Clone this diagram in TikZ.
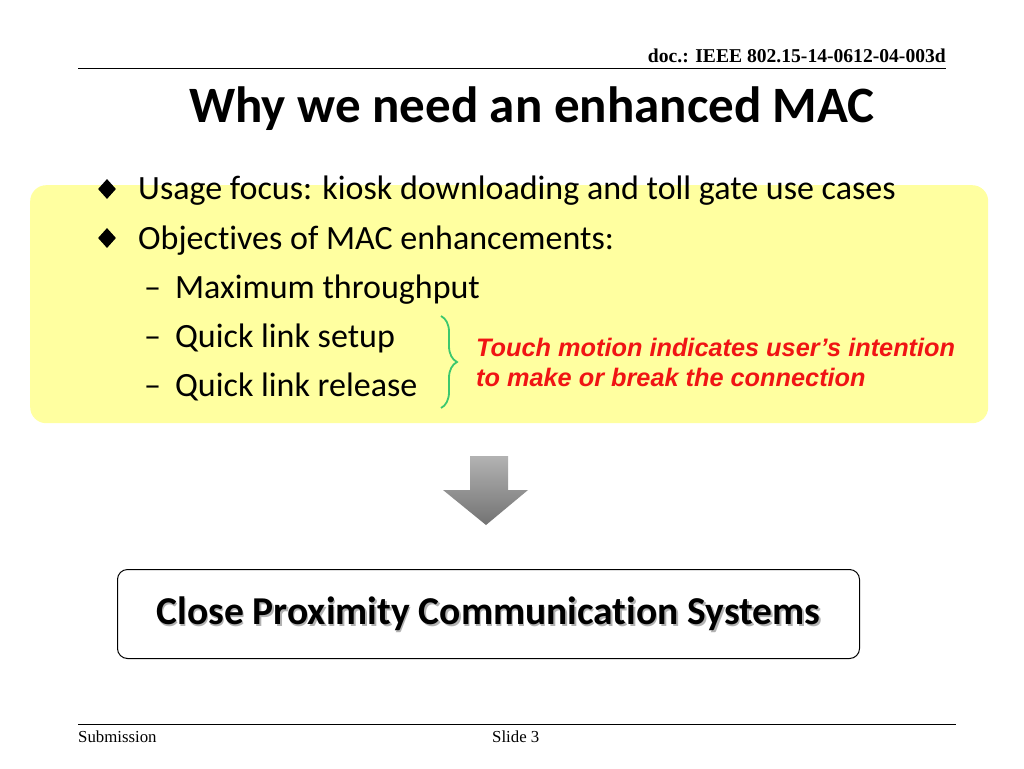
\documentclass[tikz,border=0pt]{standalone}
\usepackage{fontspec}
\setmainfont[Ligatures=NoCommon]{Carlito}
\newfontfamily\timesf{Liberation Serif}
\newfontfamily\arialf{Liberation Sans}
\usetikzlibrary{decorations.pathreplacing,shapes.geometric}
\definecolor{ylw}{RGB}{255,255,160}
\definecolor{brc}{RGB}{60,200,110}
\definecolor{redt}{RGB}{240,20,20}
\tikzset{body/.style={anchor=base west,font=\fontsize{34}{36}\selectfont,inner sep=0},
 rule/.style={line width=0.8pt},
 redtxt/.style={anchor=base west,inner sep=0,font=\arialf\bfseries\itshape\fontsize{25.3}{27}\selectfont,text=redt}}
\begin{document}
\begin{tikzpicture}[x=1pt,y=-1pt]
\useasboundingbox (0,0) rectangle (1024,768);
\fill[white] (0,0) rectangle (1024,768);
\node[anchor=base east,font=\timesf\bfseries\fontsize{19.6}{21}\selectfont,inner sep=0] (doc) at (946,63) {doc.: IEEE 802.15-14-0612-04-003d};
\draw[rule] (78,68) -- (946,68);
\node[anchor=base west,font=\bfseries\fontsize{51}{55}\selectfont,inner sep=0] (title) at (189,122) {Why we need an enhanced MAC};
\node[draw=none,fill=ylw,rounded corners=16pt,minimum width=958pt,minimum height=238pt,anchor=north west] (yb) at (30,185) {};
\node[diamond,fill=black,inner sep=0,minimum width=18pt,minimum height=20pt] (d1) at (107,189) {};
\node[diamond,fill=black,inner sep=0,minimum width=18pt,minimum height=20pt] (d2) at (107,238) {};
\node[body] (t1) at (138,199) {Usage focus: kiosk downloading and toll gate use cases};
\node[body] (t2) at (138,249) {Objectives of MAC enhancements:};
\node[body] (t3) at (144,298) {–\hspace{14pt}Maximum throughput};
\node[body] (t4) at (144,347) {–\hspace{14pt}Quick link setup};
\node[body] (t5) at (144,396) {–\hspace{14pt}Quick link release};
\coordinate (bt) at (441,316);
\coordinate (bb) at (441,408);
\draw[brc,line width=1.8pt,decorate,decoration={brace,amplitude=16pt,mirror}] (bb) -- (bt);
\node[redtxt] (red) at (476,356) {Touch motion indicates user’s intention};
\node[redtxt] (red2) at (476,386) {to make or break the connection};
\shade[top color=gray!60,bottom color=gray!90!black] (470,456) -- (508,456) -- (508,490) -- (528,490) -- (486,525) -- (443,490) -- (470,490) -- cycle;
\node[draw,line width=1pt,rounded corners=10pt,minimum width=742pt,minimum height=89pt,anchor=north west] (cp) at (117,569) {};
\node[font=\bfseries\fontsize{39.5}{42}\selectfont,text=gray!60] at ([shift={(1.5,1.5)}]cp.center) {Close Proximity Communication Systems};
\node[font=\bfseries\fontsize{39.5}{42}\selectfont] (cpt) at (cp.center) {Close Proximity Communication Systems};
\draw[rule] (78,724) -- (956,724);
\node[anchor=base west,inner sep=0,font=\timesf\fontsize{16.8}{18}\selectfont] (sub) at (78,742) {Submission};
\node[anchor=base west,inner sep=0,font=\timesf\fontsize{16.8}{18}\selectfont] (sl) at (492,742) {Slide 3};
\end{tikzpicture}
\end{document}
